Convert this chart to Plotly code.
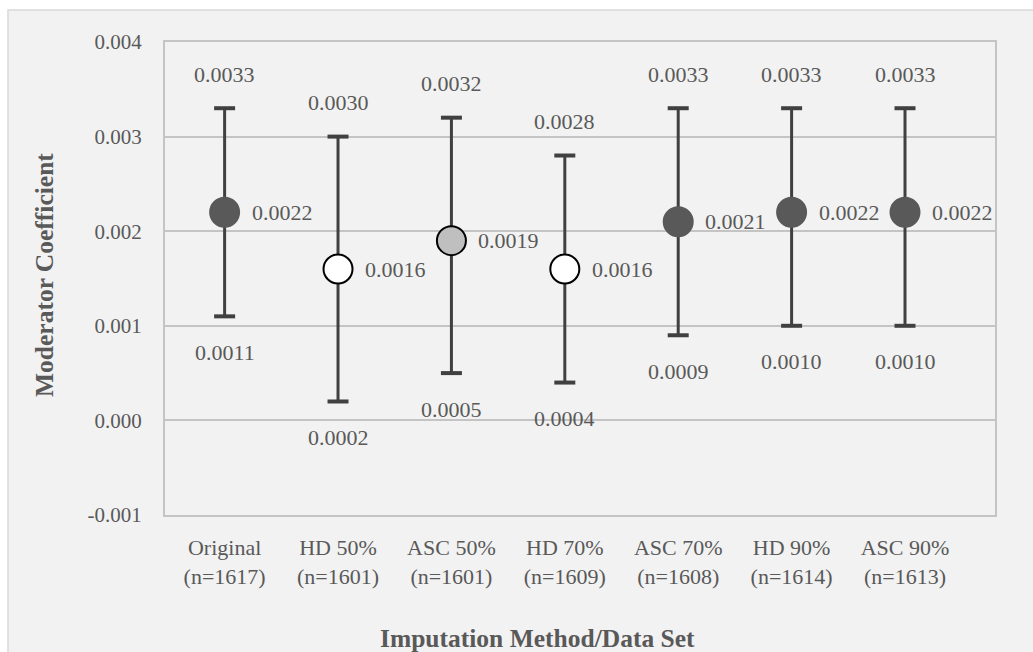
import plotly.graph_objects as go

categories = ["Original<br>(n=1617)", "HD 50%<br>(n=1601)", "ASC 50%<br>(n=1601)",
              "HD 70%<br>(n=1609)", "ASC 70%<br>(n=1608)", "HD 90%<br>(n=1614)",
              "ASC 90%<br>(n=1613)"]
coef = [0.0022, 0.0016, 0.0019, 0.0016, 0.0021, 0.0022, 0.0022]
upper = [0.0033, 0.0030, 0.0032, 0.0028, 0.0033, 0.0033, 0.0033]
lower = [0.0011, 0.0002, 0.0005, 0.0004, 0.0009, 0.0010, 0.0010]
marker_fill = ["#595959", "#ffffff", "#bfbfbf", "#ffffff", "#595959", "#595959", "#595959"]
marker_edge = ["#595959", "#000000", "#000000", "#000000", "#595959", "#595959", "#595959"]
ytick_vals = [-0.001, 0.000, 0.001, 0.002, 0.003, 0.004]
ytick_text = ["-0.001", "0.000", "0.001", "0.002", "0.003", "0.004"]

FONT = "Liberation Serif"
TXT = "#595959"
BAR = "#404040"

fig = go.Figure()
# whiskers
fig.add_trace(go.Scatter(
    x=categories, y=coef, mode="markers", marker=dict(size=1, opacity=0),
    error_y=dict(type="data", symmetric=False,
                 array=[u - c for u, c in zip(upper, coef)],
                 arrayminus=[c - l for c, l in zip(coef, lower)],
                 color=BAR, thickness=3, width=0),
    showlegend=False, hoverinfo="skip"))
# caps
fig.add_trace(go.Scatter(
    x=categories + categories, y=upper + lower, mode="markers",
    marker=dict(symbol="line-ew-open", size=15, color=BAR, line=dict(color=BAR, width=4)),
    showlegend=False, hoverinfo="skip"))
# points
fig.add_trace(go.Scatter(
    x=categories, y=coef, mode="markers",
    marker=dict(size=29, color=marker_fill, line=dict(color=marker_edge, width=2)),
    showlegend=False, hoverinfo="skip"))

L, R, T, B = 165, 38, 42, 137
W, H = 1033, 652
pw, ph = W - L - R, H - T - B

lab_font = dict(family=FONT, size=22, color=TXT)
ann = []
for c, m, u, l in zip(categories, coef, upper, lower):
    ann.append(dict(x=c, y=u, text=f"{u:.4f}", showarrow=False, yshift=34, font=lab_font))
    ann.append(dict(x=c, y=l, text=f"{l:.4f}", showarrow=False, yshift=-36, font=lab_font))
    ann.append(dict(x=c, y=m, text=f"{m:.4f}", showarrow=False, xanchor="left",
                    xshift=25, font=lab_font))

title_font = dict(family=FONT, size=25.5, color=TXT)
ann.append(dict(xref="paper", yref="paper", x=(537 - L) / pw, y=-(638 - (T + ph)) / ph,
                text="<b>Imputation Method/Data Set</b>", showarrow=False,
                xanchor="center", yanchor="middle", font=title_font))
ann.append(dict(xref="paper", yref="paper", x=(44 - L) / pw, y=(T + ph - 275) / ph,
                text="<b>Moderator Coefficient</b>", showarrow=False, textangle=-90,
                xanchor="center", yanchor="middle", font=title_font))

fig.update_layout(
    width=W, height=H,
    margin=dict(l=L, r=R, t=T, b=B),
    paper_bgcolor="#ffffff",
    plot_bgcolor="#e6e6e6",
    font=dict(family=FONT, size=21, color=TXT),
    annotations=ann,
    shapes=[dict(type="rect", xref="paper", yref="paper", layer="below",
                 x0=(8 - L) / pw, x1=(W + 20 - L) / pw,
                 y0=-(H + 20 - T - ph) / ph, y1=1 + (T - 10) / ph,
                 fillcolor="#f2f2f2", line=dict(color="#d9d9d9", width=1.5))],
)
fig.update_xaxes(
    showgrid=False, showline=True, mirror=True, linecolor="#c4c4c4", linewidth=2,
    ticks="outside", ticklen=12, tickcolor="rgba(0,0,0,0)",
    tickfont=dict(family=FONT, size=22, color=TXT),
)
fig.update_yaxes(
    range=[-0.001, 0.004], tickvals=ytick_vals, ticktext=ytick_text,
    showgrid=True, gridcolor="#c4c4c4", gridwidth=2, zeroline=False,
    showline=True, mirror=True, linecolor="#c4c4c4", linewidth=2,
    ticks="outside", ticklen=17, tickcolor="rgba(0,0,0,0)",
    tickfont=dict(family=FONT, size=21, color=TXT),
)

fig.write_html("out.html")
